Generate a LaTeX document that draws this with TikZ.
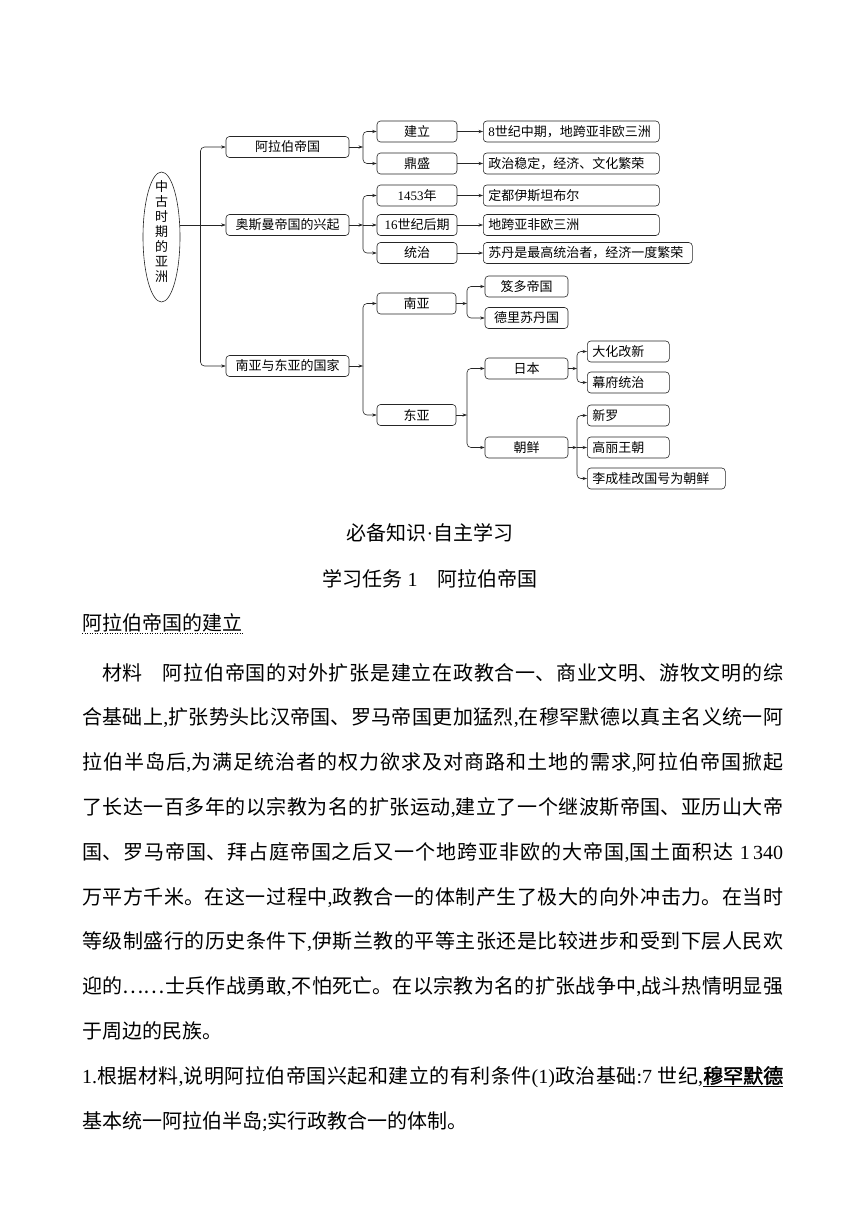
\documentclass[tikz,border=0pt]{standalone}
\usepackage{fontspec}
\setmainfont{Noto Sans CJK SC}
\newfontfamily\latf{Liberation Serif}
\newfontfamily\cjkbold[FakeBold=2]{Noto Sans CJK SC}
\usetikzlibrary{arrows.meta,shapes.geometric}
\XeTeXlinebreaklocale "zh"
\XeTeXlinebreakskip=0pt plus 2pt
\newcommand\dfont{\fontsize{13pt}{15pt}\selectfont}
\newcommand\bfont{\fontsize{20pt}{44.8pt}\selectfont}
\newcommand\cm{{\latf ,}}
\tikzset{
  bx/.style={draw=black!85, line width=0.6pt, rounded corners=3.5pt, minimum height=21pt, inner sep=0pt, font=\dfont},
  lbx/.style={bx, anchor=west, inner xsep=5pt, align=left},
  conn/.style={draw=black!85, line width=0.6pt, -{Stealth[length=4.5pt,width=3.2pt]}},
  rc/.style={rounded corners=4pt},
}
\begin{document}
\begin{tikzpicture}[x=1pt,y=-1pt]
\path[use as bounding box] (0,0) rectangle (860,1216);
\fill[white] (0,0) rectangle (860,1216);

% root
\node[ellipse, draw=black!85, line width=0.6pt, minimum width=37pt, minimum height=130pt, inner sep=0pt] (root) at (161.5,237) {};
\node[font=\dfont, align=center, inner sep=0pt] (rootlbl) at (161.5,232) {中\\古\\时\\期\\的\\亚\\洲};

% level 1
\node[bx, minimum width=123pt] (arab) at (287.5,147) {阿拉伯帝国};
\node[bx, minimum width=123pt] (osm) at (287.5,225) {奥斯曼帝国的兴起};
\node[bx, minimum width=123pt] (sea) at (287.5,366) {南亚与东亚的国家};

% level 2
\node[bx, minimum width=80pt] (jl) at (417,131.5) {建立};
\node[bx, minimum width=80pt] (ds) at (417,163.5) {鼎盛};
\node[bx, minimum width=80pt] (y1453) at (417,195.5) {{\latf 1453}年};
\node[bx, minimum width=80pt] (c16) at (417,225) {{\latf 16}世纪后期};
\node[bx, minimum width=80pt] (tz) at (417,253) {统治};
\node[bx, minimum width=79pt] (na) at (416.5,303.5) {南亚};
\node[bx, minimum width=79pt] (ea) at (416.5,415) {东亚};

% level 3
\node[lbx, text width=166pt] (d1) at (483,131.5) {{\latf 8}世纪中期，地跨亚非欧三洲};
\node[lbx, text width=166pt] (d2) at (483,163.5) {政治稳定，经济、文化繁荣};
\node[lbx, text width=166pt] (d3) at (483,195.5) {定都伊斯坦布尔};
\node[lbx, text width=166pt] (d4) at (483,225) {地跨亚非欧三洲};
\node[lbx, text width=199pt] (d5) at (483,253) {苏丹是最高统治者，经济一度繁荣};
\node[bx, minimum width=83pt] (gd) at (526.5,286.5) {笈多帝国};
\node[bx, minimum width=83pt] (dl) at (526.5,318) {德里苏丹国};
\node[bx, minimum width=83pt] (jp) at (526.5,368.5) {日本};
\node[bx, minimum width=83pt] (kr) at (526.5,447.5) {朝鲜};

% level 4
\node[lbx, text width=72pt] (dh) at (587,351.5) {大化改新};
\node[lbx, text width=72pt] (mf) at (587,382.5) {幕府统治};
\node[lbx, text width=72pt] (xl) at (587,415.5) {新罗};
\node[lbx, text width=72pt] (gl) at (587,447.5) {高丽王朝};
\node[lbx, text width=128pt] (lc) at (587,478.5) {李成桂改国号为朝鲜};

% junctions
\coordinate (j0) at (200.5,225);
\coordinate (j1) at (363,147);
\coordinate (j2) at (363,225);
\coordinate (j3) at (363,366);
\coordinate (j4) at (467,303.5);
\coordinate (j5) at (467,415);
\coordinate (j6) at (577,368.5);
\coordinate (j7) at (577,447.5);

% connectors
\draw[conn] (root.east |- osm.west) -- (osm.west);
\draw[conn,rc] (j0) |- (arab.west);
\draw[conn,rc] (j0) |- (sea.west);

\draw[conn] (arab.east) -- (j1);
\draw[conn,rc] (j1) |- (jl.west);
\draw[conn,rc] (j1) |- (ds.west);

\draw[conn] (osm.east) -- (j2);
\draw[conn,rc] (j2) |- (y1453.west);
\draw[conn] (j2) -- (c16.west);
\draw[conn,rc] (j2) |- (tz.west);

\draw[conn] (jl.east) -- (d1.west);
\draw[conn] (ds.east) -- (d2.west);
\draw[conn] (y1453.east) -- (d3.west);
\draw[conn] (c16.east) -- (d4.west);
\draw[conn] (tz.east) -- (d5.west);

\draw[conn] (sea.east) -- (j3);
\draw[conn,rc] (j3) |- (na.west);
\draw[conn,rc] (j3) |- (ea.west);

\draw[conn] (na.east) -- (j4);
\draw[conn,rc] (j4) |- (gd.west);
\draw[conn,rc] (j4) |- (dl.west);

\draw[conn] (ea.east) -- (j5);
\draw[conn,rc] (j5) |- (jp.west);
\draw[conn,rc] (j5) |- (kr.west);

\draw[conn] (jp.east) -- (j6);
\draw[conn,rc] (j6) |- (dh.west);
\draw[conn,rc] (j6) |- (mf.west);

\draw[conn] (kr.east) -- (j7);
\draw[conn,rc] (j7) |- (xl.west);
\draw[conn] (j7) -- (gl.west);
\draw[conn,rc] (j7) |- (lc.west);

% text section
\node[font=\bfont, anchor=base, inner sep=0pt] (h1) at (430,540) {必备知识{\latf ·}自主学习};
\node[font=\bfont, anchor=base, inner sep=0pt] (h2) at (430,586) {学习任务{\latf\ 1}\hspace{1em}阿拉伯帝国};
\node[font=\bfont, anchor=base west, inner sep=0pt] (h3) at (82,630) {阿拉伯帝国的建立};
\draw[line width=0.9pt, dash pattern=on 0.9pt off 1.6pt] ([yshift=-3.5pt]h3.base west) -- ([yshift=-3.5pt]h3.base east);

\node[font=\bfont, anchor=base west, inner sep=0pt, text width=701pt, align=justify] (para) at (82,680) {%
\hspace*{1em}材料\hspace{1em}阿拉伯帝国的对外扩张是建立在政教合一、商业文明、游牧文明的综\linebreak
合基础上\cm 扩张势头比汉帝国、罗马帝国更加猛烈\cm 在穆罕默德以真主名义统一阿\linebreak
拉伯半岛后\cm 为满足统治者的权力欲求及对商路和土地的需求\cm 阿拉伯帝国掀起\linebreak
了长达一百多年的以宗教为名的扩张运动\cm 建立了一个继波斯帝国、亚历山大帝\linebreak
国、罗马帝国、拜占庭帝国之后又一个地跨亚非欧的大帝国\cm 国土面积达{\latf\ 1\,340}\linebreak
万平方千米。在这一过程中\cm 政教合一的体制产生了极大的向外冲击力。在当时\linebreak
等级制盛行的历史条件下\cm 伊斯兰教的平等主张还是比较进步和受到下层人民欢\linebreak
迎的……士兵作战勇敢\cm 不怕死亡。在以宗教为名的扩张战争中\cm 战斗热情明显强\linebreak
于周边的民族。\par
{\latf 1.}根据材料\cm 说明阿拉伯帝国兴起和建立的有利条件{\latf (1)}政治基础{\latf :7 }世纪\cm\underline{\cjkbold 穆罕默德}\linebreak
基本统一阿拉伯半岛{\latf ;}实行政教合一的体制。\par};
\end{tikzpicture}
\end{document}
